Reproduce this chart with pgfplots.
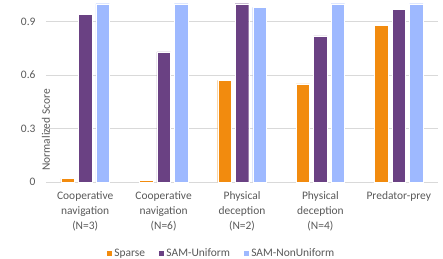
\documentclass[border=0pt]{standalone}
\usepackage{pgfplots}
\pgfplotsset{compat=1.18}
\usepackage{fontspec}
\setmainfont{Carlito}
\definecolor{cOrange}{RGB}{242,139,14}
\definecolor{cPurple}{RGB}{106,65,131}
\definecolor{cBlue}{RGB}{158,185,255}
\definecolor{cGrid}{RGB}{217,217,217}
\definecolor{cText}{RGB}{89,89,89}
\begin{document}
\begin{tikzpicture}
\begin{axis}[
  name=ax,
  at={(0,0)}, anchor=south west,
  scale only axis,
  width=392bp, height=178.3bp,
  ybar=4bp, bar width=13.5bp,
  xmin=-0.5, xmax=4.5, ymin=0, ymax=1.0,
  xtick=data,
  xticklabels={{Cooperative\\navigation\\(N=3)},{Cooperative\\navigation\\(N=6)},{Physical\\deception\\(N=2)},{Physical\\deception\\(N=4)},{Predator-prey}},
  xticklabel style={align=center, font=\fontsize{11.5}{15}\selectfont, text=cText, anchor=north, yshift=-6bp},
  ytick={0,0.3,0.6,0.9},
  yticklabels={0,0.3,0.6,0.9},
  yticklabel style={font=\fontsize{11.5}{13}\selectfont, text=cText, anchor=east, xshift=-7bp},
  ymajorgrids, grid style={cGrid, line width=0.8pt},
  axis lines*=left,
  x axis line style={cGrid, line width=0.8pt},
  y axis line style={draw=none},
  major tick length=0pt,
  xtick style={draw=none}, ytick style={draw=none},
  ylabel={Normalized Score},
  ylabel style={font=\fontsize{11.5}{13}\selectfont, text=cText, at={(axis description cs:0,0.5)}, anchor=center, xshift=-37bp},
  legend style={at={(0.447,-0.40)}, anchor=center, draw=none, legend columns=3,
    font=\fontsize{11.5}{13}\selectfont, text=cText,
    /tikz/every even column/.append style={column sep=11bp}},
  legend image code/.code={\fill[#1] (0bp,-3bp) rectangle (6bp,3bp);},
  /pgf/number format/assume math mode=true,
]
\addplot[fill=cOrange, draw=white, line width=0.3pt] coordinates {(0,0.02) (1,0.01) (2,0.57) (3,0.55) (4,0.88)};
\addplot[fill=cPurple, draw=white, line width=0.3pt] coordinates {(0,0.94) (1,0.73) (2,1.0) (3,0.82) (4,0.97)};
\addplot[fill=cBlue, draw=white, line width=0.3pt] coordinates {(0,1.0) (1,1.0) (2,0.98) (3,1.0) (4,1.0)};
\legend{Sparse, SAM-Uniform, SAM-NonUniform}
\end{axis}
\pgfresetboundingbox
\path (-46bp,-77bp) rectangle (397bp,182bp);
\end{tikzpicture}
\end{document}
